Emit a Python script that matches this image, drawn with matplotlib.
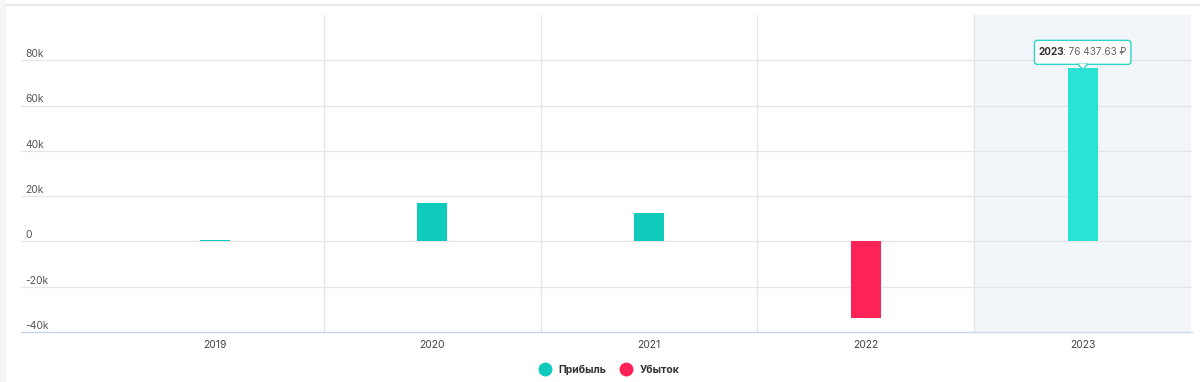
import matplotlib
matplotlib.use("Agg")
import matplotlib.pyplot as plt
from matplotlib.lines import Line2D
from matplotlib.patches import FancyBboxPatch, Polygon

plt.rcParams['font.family'] = ['Inter', 'DejaVu Sans']

years = ["2019", "2020", "2021", "2022", "2023"]
values = [700, 16900, 12400, -33700, 76437.63]
yticks = [-40000, -20000, 0, 20000, 40000, 60000, 80000]
ytick_labels = ["-40k", "-20k", "0", "20k", "40k", "60k", "80k"]
legend_labels = ["Прибыль", "Убыток"]
tooltip_year = "2023"
tooltip_value = "76 437.63 ₽"

profit_color = "#10cbbc"
profit_hover = "#2ae3d5"
loss_color = "#ff2257"

W, H = 1200, 382
fig = plt.figure(figsize=(W / 100, H / 100), dpi=100)
fig.patch.set_facecolor("white")

# left light strip and top line
fig.add_artist(plt.Rectangle((0, 0), 6 / W, 1, transform=fig.transFigure, color="#f5f6f8", lw=0))
fig.add_artist(Line2D([6 / W, 1], [1 - 5 / H, 1 - 5 / H], transform=fig.transFigure, color="#e6e6e6", lw=1.2))

left, right, top, bottom = 21, 1192, 15, 332
ax = fig.add_axes([left / W, 1 - bottom / H, (right - left) / W, (bottom - top) / H])
ax.set_facecolor("white")

x = list(range(len(years)))
spacing = 217
xl = (left - 215) / spacing
xr = (right - 215) / spacing
ax.set_xlim(xl, xr)
ax.set_ylim(-40000, 100000)

# hover band for last category
ax.axvspan(len(years) - 1.5, len(years) - 0.5, color="#f2f5fa", lw=0, zorder=0)

# grid
for t in yticks[1:]:
    ax.axhline(t, color="#e6e6e6", lw=1, zorder=1)
for i in range(len(years) - 1):
    ax.axvline(i + 0.5, color="#e6e6e6", lw=1, zorder=1)

colors = []
for i, v in enumerate(values):
    if v < 0:
        colors.append(loss_color)
    elif i == len(values) - 1:
        colors.append(profit_hover)
    else:
        colors.append(profit_color)

bw = 30 / spacing
for xi, v, c in zip(x, values, colors):
    y0 = min(0, v)
    h = abs(v)
    ax.bar(xi, h, bottom=y0, width=bw, color=c, lw=0, zorder=3)

for s in ["top", "right", "left"]:
    ax.spines[s].set_visible(False)
ax.spines["bottom"].set_color("#ccd6eb")
ax.spines["bottom"].set_linewidth(1)

ax.set_yticks(yticks)
ax.set_yticklabels([])
ax.tick_params(axis="y", length=0)
for t, lab in zip(yticks, ytick_labels):
    ax.text(4 / (right - left), t + 500, lab, transform=ax.get_yaxis_transform(),
            ha="left", va="bottom", fontsize=7.5, color="#555555", zorder=4)

ax.set_xticks(x)
ax.set_xticklabels(years, fontsize=7.5, color="#444444")
ax.tick_params(axis="x", length=0, pad=6)

# tooltip
tx = len(years) - 1
ty = 83500
fs = 7.2
fig.canvas.draw()
r = fig.canvas.get_renderer()
probe = ax.text(tx, ty, f"{tooltip_year}: {tooltip_value}", ha="center", va="center", fontsize=fs)
bb = probe.get_window_extent(r)
probe.remove()
inv = ax.transData.inverted()
x_start = inv.transform((bb.x0, 0))[0]
tb = ax.text(x_start, ty, tooltip_year, ha="left", va="center", fontsize=fs, fontweight="bold",
             color="#333333", zorder=8)
bb2 = tb.get_window_extent(r)
x2 = inv.transform((bb2.x1 - 1.5, 0))[0]
tv = ax.text(x2, ty, f": {tooltip_value}", ha="left", va="center", fontsize=fs, color="#666666", zorder=8)
bb3 = tv.get_window_extent(r)

# box in display coords
cx = (bb.x0 + bb3.x1) / 2
cy = ax.transData.transform((tx, ty))[1]
bw_px = (bb3.x1 - bb.x0) + 9
bh_px = 24
box = FancyBboxPatch((cx - bw_px / 2, cy - bh_px / 2), bw_px, bh_px,
                     boxstyle="round,pad=0,rounding_size=3", transform=None,
                     fc="white", ec="#2ad6c8", lw=1, zorder=6)
ax.add_artist(box)
ybot = cy - bh_px / 2
tri = Polygon([(cx - 5, ybot + 0.5), (cx + 5, ybot + 0.5), (cx, ybot - 5)], closed=True,
              transform=None, fc="white", ec="#2ad6c8", lw=1, zorder=6)
ax.add_artist(tri)
cover = Polygon([(cx - 4.3, ybot + 0.9), (cx + 4.3, ybot + 0.9), (cx, ybot - 3.8)], closed=True,
                transform=None, fc="white", ec="none", zorder=7)
ax.add_artist(cover)

legend_handles = [
    Line2D([], [], marker="o", ls="", markersize=9, markerfacecolor=profit_color, markeredgecolor=profit_color),
    Line2D([], [], marker="o", ls="", markersize=9, markerfacecolor=loss_color, markeredgecolor=loss_color),
]
leg = fig.legend(legend_handles, legend_labels, loc="center", bbox_to_anchor=(607 / W, 1 - 370 / H),
                 ncol=2, frameon=False, fontsize=7.5, handletextpad=0.3, columnspacing=0.9)
for t in leg.get_texts():
    t.set_fontweight("bold")
    t.set_color("#333333")

fig.savefig("out.png", dpi=100, facecolor="white")
